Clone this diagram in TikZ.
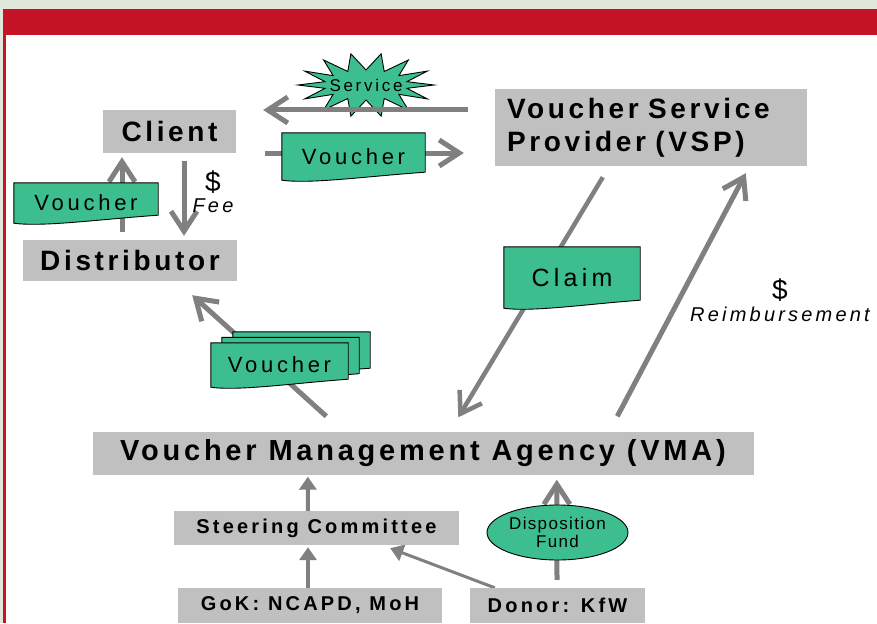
\documentclass[tikz,border=0pt]{standalone}
\usepackage{fontspec}
\setmainfont{Liberation Sans}
\newfontfamily\boxfont[LetterSpace=13]{Liberation Sans}
\newfontfamily\tagfont[LetterSpace=16]{Liberation Sans}
\newfontfamily\docfont[LetterSpace=17]{Liberation Sans}
\newfontfamily\notefont[LetterSpace=16]{Liberation Sans}
\newfontfamily\fundfont[LetterSpace=8]{Liberation Sans}
\usetikzlibrary{arrows.meta,positioning,calc,shapes.geometric}
\definecolor{framered}{RGB}{196,20,38}
\definecolor{framebg}{RGB}{225,232,219}
\definecolor{boxgray}{RGB}{192,192,192}
\definecolor{flowgray}{RGB}{128,128,128}
\definecolor{docgreen}{RGB}{61,190,143}
\pgfdeclarelayer{backdrop}
\pgfdeclarelayer{flows}
\pgfdeclarelayer{papers}
\pgfsetlayers{backdrop,flows,papers,main}

% sheet with a wavy lower edge behind node #1, moved by #2
\newcommand{\sheet}[2]{%
  \draw[paper] ($(#1.north west)+(#2)$) -- ($(#1.north east)+(#2)$) -- ($(#1.south east)+(#2)+(0,-8)$)
    .. controls ($(#1.south east)!0.4!(#1.south west)+(#2)+(0,-4)$) and ($(#1.south east)!0.8!(#1.south west)+(#2)+(0,4)$) .. ($(#1.south west)+(#2)$) -- cycle;}

\begin{document}
\begin{tikzpicture}[x=1pt, y=-1pt,
    box/.style={rectangle, fill=boxgray, inner sep=0pt, font=\boxfont\bfseries\fontsize{28}{33}\selectfont},
    tag/.style={rectangle, fill=boxgray, inner sep=0pt, minimum height=35pt, font=\tagfont\bfseries\fontsize{20}{22}\selectfont},
    sheetbox/.style={inner sep=0pt, font=\docfont\fontsize{22}{24}\selectfont},
    remark/.style={inner sep=0pt, font=\notefont\itshape\fontsize{20}{22}\selectfont},
    cash/.style={inner sep=0pt, font=\fontsize{28}{30}\selectfont},
    paper/.style={fill=docgreen, draw=black, line width=0.9pt},
    flow/.style={-{Straight Barb[length=20pt,width=26pt]}, line width=5pt, flowgray},
    feed/.style={-{Triangle[length=13pt,width=17pt]}, line width=4pt, flowgray}
]
\useasboundingbox (0,0) rectangle (877,623);
\begin{pgfonlayer}{backdrop}
  \fill[framebg] (0,0) rectangle (877,623);
  \fill[framered] (3,9) rectangle (877,623);
  \fill[white] (6,35) rectangle (877,623);
\end{pgfonlayer}

% parties
\node[box, minimum width=133pt, minimum height=43pt] (client) at (169.5,131.5) {Client};
\node[box, minimum width=214pt, minimum height=41pt] (dist) at (130,260.5) {Distributor};
\node[box, minimum width=312pt, minimum height=77pt, text width=288pt, align=left] (vsp) at (651,127.5) {Voucher Service\\Provider (VSP)};
\node[box, minimum width=661pt, minimum height=43pt, font=\boxfont\bfseries\fontsize{29}{33}\selectfont] (vma) at (423,453) {Voucher Management Agency (VMA)};
\node[tag, minimum width=285pt, minimum height=34pt] (steer) at (316.5,528) {Steering Committee};
\node[tag, minimum width=264pt] (gok) at (310,605.5) {GoK: NCAPD, MoH};
\node[tag, minimum width=175pt] (donor) at (557.5,605.5) {Donor: KfW};
\node[ellipse, paper, minimum width=141pt, minimum height=55pt, inner sep=0pt, align=center,
      font=\fundfont\fontsize{17}{18}\selectfont] (fund) at (557.5,532.5) {Disposition\\Fund};

% papers on the flows
\node[sheetbox, minimum width=143pt, minimum height=47pt] (vtop) at (353.5,156.5) {Voucher};
\node[sheetbox, minimum width=144pt, minimum height=40pt] (vleft) at (86,203) {Voucher};
\node[sheetbox, minimum width=137pt, minimum height=44pt] (vstack) at (279.5,365) {Voucher};
\node[sheetbox, minimum width=136pt, minimum height=61pt, font=\docfont\fontsize{25}{27}\selectfont] (claim) at (572,277.5) {Claim};
\node[inner sep=0pt, font=\notefont\fontsize{17}{18}\selectfont] (svc) at (366,85) {Service};

% money labels
\node[cash] (feeamt) at (213,182) {\$};
\node[remark, below=5pt of feeamt] (fee) {Fee};
\node[cash] (reimamt) at (780,290) {\$};
\node[remark, below=5pt of reimamt] (reim) {Reimbursement};

\begin{pgfonlayer}{flows}
  \draw[paper, shift={(svc)}] plot[samples at={0,...,27}]
    ({cos(\x*360/28)*(42+26*(1-mod(\x,2)))}, {sin(\x*360/28)*(15+17*(1-mod(\x,2)))}) -- cycle;
  \draw[flow] ($(vsp.west)+(-27,-17.5)$) -- ($(client.east)+(27,-21.5)$);
  \draw[flow] ($(client.east)+(29,21.5)$) -- ($(vsp.west)+(-31,25.5)$);
  \draw[flow] ($(dist.north)+(-8,-8)$) -- ($(client.south)+(-47.5,4)$);
  \draw[flow] ($(client.south)+(14.5,8)$) -- ($(dist.north)+(54,-4)$);
  \draw[flow] ($(vma.north west)+(234,-15)$) -- ($(dist.south east)+(-45,14)$);
  \draw[flow, line width=4.5pt] ($(vsp.south west)+(108,11)$) -- ($(vma.north west)+(366,-14)$);
  \draw[flow] ($(vma.north west)+(525,-15)$) -- ($(vsp.south west)+(251,7)$);
  \draw[feed] ($(steer.north)+(-8.5,0)$) -- ($(vma.south west)+(215.5,2)$);
  \draw[feed] ($(gok.north)+(-2,0)$) -- ($(steer.south)+(-8.5,2)$);
  \draw[feed, line width=3pt] ($(donor.north west)+(25,0)$) -- ($(steer.south east)+(-69,3)$);
  \draw[flow] ($(donor.north)+(-0.5,-8)$) -- ($(vma.south west)+(464.5,5)$);
\end{pgfonlayer}

\begin{pgfonlayer}{papers}
  \sheet{vtop}{0,0}
  \sheet{vleft}{0,0}
  \sheet{vstack}{22,-11}
  \sheet{vstack}{11,-5.5}
  \sheet{vstack}{0,0}
  \sheet{claim}{0,0}
\end{pgfonlayer}
\end{tikzpicture}
\end{document}
